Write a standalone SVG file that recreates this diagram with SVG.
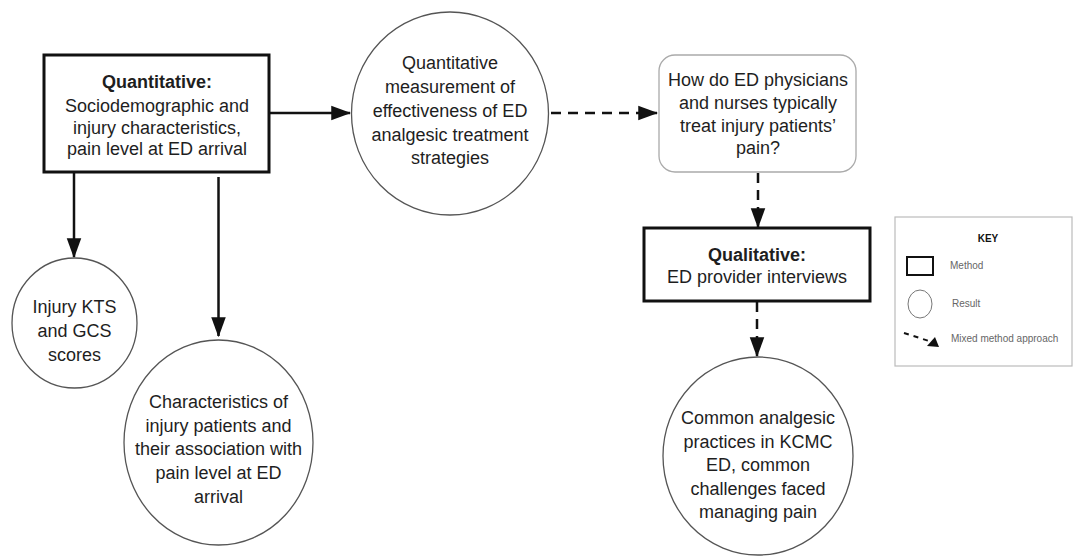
<svg xmlns="http://www.w3.org/2000/svg" width="1073" height="556" viewBox="0 0 1073 556">
<style>
text{font-family:"Liberation Sans",Arial,sans-serif;fill:#1e1e1e;text-anchor:middle}
.t{font-size:18px}
.b{font-weight:bold}
.method{fill:#fff;stroke:#111;stroke-width:3}
.result{fill:#fff;stroke:#555;stroke-width:1.3}
.q{fill:#fff;stroke:#aaa;stroke-width:1.3}
.c{stroke:#111;stroke-width:2.5;fill:none}
.d{stroke-dasharray:10,7}
.k{font-size:10px;fill:#666;text-anchor:start}
</style>
<defs>
<marker id="ah" markerWidth="8" markerHeight="8" refX="7.5" refY="4" orient="auto" markerUnits="strokeWidth">
<path d="M0,1.1 L8,4 L0,6.9 z" fill="#111"/>
</marker>
</defs>
<rect width="1073" height="556" fill="#fff"/>
<g id="connectors">
<line class="c" x1="269" y1="113" x2="350" y2="113" marker-end="url(#ah)"/>
<line class="c d" x1="551" y1="113" x2="657" y2="113" marker-end="url(#ah)"/>
<line class="c" x1="74" y1="172" x2="74" y2="257" marker-end="url(#ah)"/>
<line class="c" x1="218.5" y1="177" x2="218.5" y2="336" marker-end="url(#ah)"/>
<line class="c d" x1="758" y1="173" x2="758" y2="227" marker-end="url(#ah)"/>
<line class="c d" x1="757" y1="302" x2="757" y2="356" marker-end="url(#ah)"/>
</g>
<g id="quant-method">
<rect class="method" x="44" y="55" width="225" height="117"/>
<text class="t" x="157" y="88"><tspan class="b" x="157">Quantitative:</tspan><tspan x="157" dy="24">Sociodemographic and</tspan><tspan x="157" dy="21.5">injury characteristics,</tspan><tspan x="157" dy="21.5">pain level at ED arrival</tspan></text>
</g>
<g id="quant-result">
<ellipse class="result" cx="450" cy="113.5" rx="98.5" ry="101.5"/>
<text class="t" x="450" y="69"><tspan x="450">Quantitative</tspan><tspan x="450" dy="24">measurement of</tspan><tspan x="450" dy="24">effectiveness of ED</tspan><tspan x="450" dy="24">analgesic treatment</tspan><tspan x="450" dy="23">strategies</tspan></text>
</g>
<g id="question">
<rect class="q" x="659" y="55" width="197" height="117" rx="16"/>
<text class="t" x="758" y="86"><tspan x="758">How do ED physicians</tspan><tspan x="758" dy="23">and nurses typically</tspan><tspan x="758" dy="23">treat injury patients’</tspan><tspan x="758" dy="22">pain?</tspan></text>
</g>
<g id="qual-method">
<rect class="method" x="644" y="228" width="226" height="73"/>
<text class="t" x="757" y="261"><tspan class="b" x="757">Qualitative:</tspan><tspan x="757" dy="22">ED provider interviews</tspan></text>
</g>
<g id="qual-result">
<ellipse class="result" cx="758" cy="456" rx="95" ry="99"/>
<text class="t" x="758" y="424"><tspan x="758">Common analgesic</tspan><tspan x="758" dy="24">practices in KCMC</tspan><tspan x="758" dy="23">ED, common</tspan><tspan x="758" dy="24">challenges faced</tspan><tspan x="758" dy="23">managing pain</tspan></text>
</g>
<g id="kts-result">
<ellipse class="result" cx="74.5" cy="323" rx="62.5" ry="65"/>
<text class="t" x="74.5" y="313"><tspan x="74.5">Injury KTS</tspan><tspan x="74.5" dy="24">and GCS</tspan><tspan x="74.5" dy="24">scores</tspan></text>
</g>
<g id="char-result">
<ellipse class="result" cx="218.5" cy="442.5" rx="94.5" ry="102.5"/>
<text class="t" x="218.5" y="408"><tspan x="218.5">Characteristics of</tspan><tspan x="218.5" dy="24">injury patients and</tspan><tspan x="218.5" dy="23">their association with</tspan><tspan x="218.5" dy="24">pain level at ED</tspan><tspan x="218.5" dy="24">arrival</tspan></text>
</g>
<g id="key">
<rect x="895" y="217" width="177" height="149" fill="#fff" stroke="#bbb" stroke-width="1.2"/>
<text x="988" y="242" style="font-size:10px;font-weight:bold;fill:#111">KEY</text>
<rect x="907" y="257" width="26" height="18" fill="#fff" stroke="#111" stroke-width="2"/>
<text class="k" x="950" y="269">Method</text>
<ellipse cx="920" cy="304" rx="12" ry="14" fill="#fff" stroke="#777" stroke-width="1"/>
<text class="k" x="952" y="307">Result</text>
<line x1="904" y1="333" x2="929" y2="341" stroke="#111" stroke-width="2" stroke-dasharray="5,5"/>
<path d="M927,346 L935,337 L939,347 z" fill="#111"/>
<text class="k" x="951" y="342">Mixed method approach</text>
</g>
</svg>
